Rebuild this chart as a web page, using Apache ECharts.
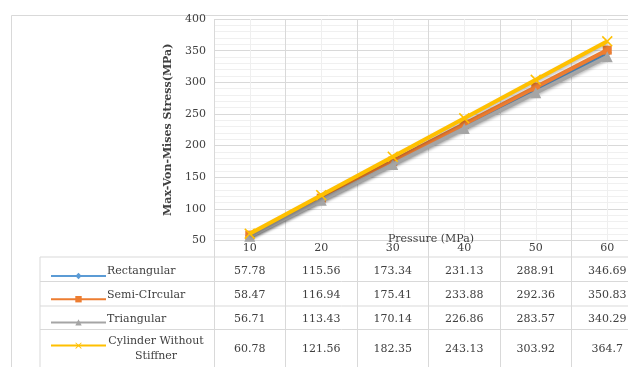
<!DOCTYPE html>
<html>
<head>
<meta charset="utf-8">
<script src="https://cdn.jsdelivr.net/npm/echarts@6/dist/echarts.min.js"></script>
<style>html,body{margin:0;padding:0;background:#fff;overflow:hidden}#c{width:645px;height:367px}</style>
</head>
<body>
<div id="c"></div>
<script>
// ---- data ----
var categories = ['10', '20', '30', '40', '50', '60'];
var seriesNames = ['Rectangular', 'Semi-CIrcular', 'Triangular', 'Cylinder Without\nStiffner'];
var rectangular = [57.78, 115.56, 173.34, 231.13, 288.91, 346.69];
var semiCircular = [58.47, 116.94, 175.41, 233.88, 292.36, 350.83];
var triangular = [56.71, 113.43, 170.14, 226.86, 283.57, 340.29];
var cylinder = [60.78, 121.56, 182.35, 243.13, 303.92, 364.7];
var yTicks = [50, 100, 150, 200, 250, 300, 350, 400];
var xTitle = 'Pressure (MPa)';
var yTitle = 'Max-Von-Mises Stress(MPa)';

// ---- layout / style ----
var FONT = '"DejaVu Serif", "Liberation Serif", serif';
var colors = ['#5B9BD5', '#ED7D31', '#A5A5A5', '#FFC000'];
var xSymbol = 'path://M0,1 L1,0 L5,4 L9,0 L10,1 L6,5 L10,9 L9,10 L5,6 L1,10 L0,9 L4,5 Z';
var symbols = ['diamond', 'rect', 'triangle', xSymbol];
var symbolSizes = [9, 9, 11, 11];
var rowCenters = [29.5, 53.5, 77.5, 107];      // table rows (px inside table grid)
var rowLines = [16, 40.5, 65, 88.5];           // table row borders
var tableLeft = 40;
var nameX = 107;
var PLOT_LEFT = 214, PLOT_RIGHT = 2;

var allValues = [rectangular, semiCircular, triangular, cylinder];

var lineSeries = allValues.map(function (vals, i) {
  return {
    name: seriesNames[i],
    type: 'line',
    xAxisIndex: 0, yAxisIndex: 0,
    data: vals,
    symbol: symbols[i],
    symbolSize: symbolSizes[i],
    showAllSymbol: true,
    lineStyle: { color: colors[i], width: 4, shadowColor: 'rgba(0,0,0,0.25)', shadowBlur: 3, shadowOffsetY: 2 },
    itemStyle: { color: colors[i] },
    z: 3 + i,
    silent: true
  };
});

var cellData = [];
allValues.forEach(function (vals, r) {
  vals.forEach(function (v, c) { cellData.push([c, r, v]); });
});

var tableCells = {
  type: 'custom',
  xAxisIndex: 1, yAxisIndex: 1,
  data: cellData,
  silent: true,
  renderItem: function (params, api) {
    var c = api.value(0), r = api.value(1), v = api.value(2);
    var pt = api.coord([c, rowCenters[r]]);
    var children = [{
      type: 'text',
      style: { text: String(v), x: pt[0], y: pt[1] + 1, align: 'center', verticalAlign: 'middle',
        fill: '#404040', font: '11px ' + FONT }
    }];
    if (c === 0) {
      var multi = seriesNames[r].indexOf('\n') >= 0;
      children.push({
        type: 'text',
        style: {
          text: seriesNames[r],
          x: multi ? 156 : nameX, y: pt[1] + 1,
          align: multi ? 'center' : 'left', verticalAlign: 'middle',
          lineHeight: 15,
          fill: '#404040', font: '11px ' + FONT
        }
      });
    }
    return { type: 'group', children: children };
  }
};

var tableLines = {
  type: 'custom',
  xAxisIndex: 1, yAxisIndex: 1,
  data: rowLines.map(function (y) { return [0, y]; }),
  silent: true,
  renderItem: function (params, api) {
    var cs = params.coordSys;
    var y = api.coord([0, api.value(1)])[1];
    var children = [{
      type: 'line',
      shape: { x1: tableLeft, y1: y, x2: cs.x + cs.width, y2: y },
      style: { stroke: '#d9d9d9', lineWidth: 1 }
    }];
    if (params.dataIndex === 0) {
      children.push({
        type: 'line',
        shape: { x1: tableLeft, y1: y, x2: tableLeft, y2: cs.y + cs.height },
        style: { stroke: '#d9d9d9', lineWidth: 1 }
      });
    }
    return { type: 'group', children: children };
  }
};

var chart = echarts.init(document.getElementById('c'), null, { renderer: 'canvas' });
chart.setOption({
  animation: false,
  backgroundColor: '#ffffff',
  textStyle: { fontFamily: FONT },
  title: {
    text: xTitle,
    left: 426, top: 229, textAlign: 'center',
    textStyle: { color: '#404040', fontSize: 11, fontWeight: 'normal', fontFamily: FONT }
  },
  graphic: [{
    type: 'rect', left: 9, top: 13, z: -10,
    shape: { width: 700, height: 400 },
    style: { fill: 'none', stroke: '#d9d9d9', lineWidth: 1 }
  }],
  legend: {
    orient: 'vertical',
    left: 45, top: 267,
    itemWidth: 55, itemHeight: 8, itemGap: 16,
    data: seriesNames,
    formatter: function () { return ''; },
    selectedMode: false,
    textStyle: { fontSize: 1 }
  },
  grid: [
    { left: PLOT_LEFT, top: 19, right: PLOT_RIGHT, height: 221.5 },
    { left: PLOT_LEFT, top: 241, right: PLOT_RIGHT, height: 126 }
  ],
  xAxis: [
    {
      type: 'category', gridIndex: 0, data: categories, boundaryGap: true,
      axisLine: { show: true, lineStyle: { color: '#d9d9d9' } },
      axisTick: { show: false },
      axisLabel: { color: '#404040', fontSize: 11, fontFamily: FONT, margin: 2 },
      splitLine: { show: false }
    },
    {
      type: 'category', gridIndex: 1, data: categories, boundaryGap: true,
      axisLine: { show: false }, axisTick: { show: false }, axisLabel: { show: false },
      splitLine: { show: true, lineStyle: { color: '#d9d9d9', width: 1 } }
    },
    {
      type: 'value', gridIndex: 0, position: 'top', min: 0, max: categories.length, interval: 1,
      axisLine: { show: false }, axisTick: { show: false }, axisLabel: { show: false },
      splitLine: { show: true, lineStyle: { color: '#d9d9d9' } },
      minorTick: { show: false, splitNumber: 2 },
      minorSplitLine: { show: true, lineStyle: { color: '#efefef' } }
    }
  ],
  yAxis: [
    {
      type: 'value', gridIndex: 0, min: yTicks[0], max: yTicks[yTicks.length - 1], interval: 50,
      axisLine: { show: false }, axisTick: { show: false },
      axisLabel: { color: '#404040', fontSize: 11, fontFamily: FONT, margin: 8 },
      splitLine: { show: true, lineStyle: { color: '#d9d9d9' } },
      minorTick: { show: false, splitNumber: 5 },
      minorSplitLine: { show: true, lineStyle: { color: '#f0f0f0' } },
      name: yTitle, nameLocation: 'middle', nameGap: 40,
      nameTextStyle: { color: '#404040', fontSize: 11, fontWeight: 'bold', fontFamily: FONT }
    },
    {
      type: 'value', gridIndex: 1, min: 0, max: 126, inverse: true, show: false,
      splitLine: { show: false }
    }
  ],
  series: lineSeries.concat([tableLines, tableCells])
});
</script>
</body>
</html>
